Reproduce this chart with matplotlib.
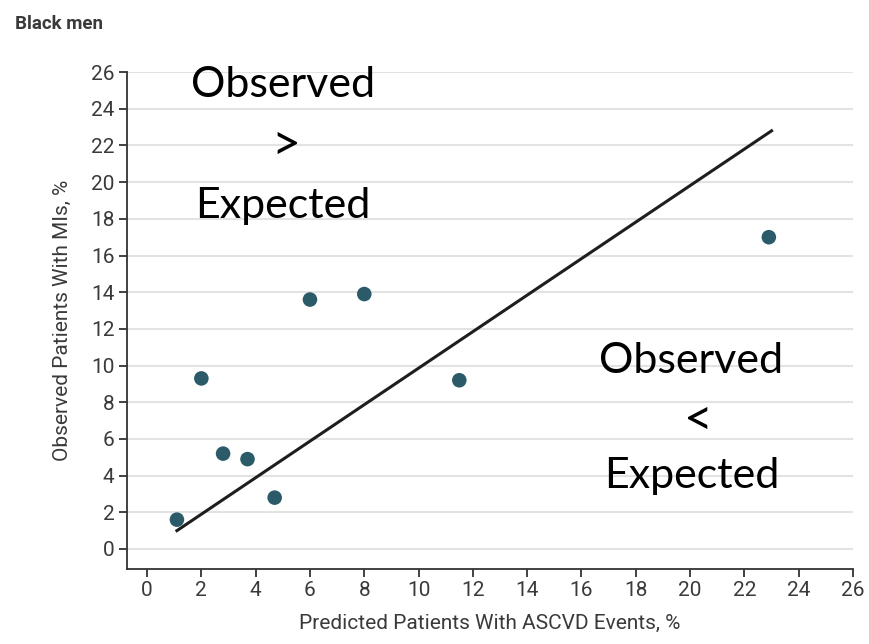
import matplotlib
matplotlib.use("Agg")
import matplotlib.pyplot as plt

# predicted vs observed
predicted = [1.1, 2.0, 2.8, 3.7, 4.7, 6.0, 8.0, 11.5, 22.9]
observed = [1.6, 9.3, 5.2, 4.9, 2.8, 13.6, 13.9, 9.2, 17.0]
line_x = [1.1, 23.0]
line_y = [1.0, 22.8]
ticks = list(range(0, 27, 2))

cond = ["Roboto", "DejaVu Sans"]
note_font = ["Lato", "DejaVu Sans"]
text_col = "#3a3a3a"

fig = plt.figure(figsize=(8.69, 6.44), dpi=100)
ax = fig.add_axes([0.1461, 0.1165, 0.9816 - 0.1461, 0.888 - 0.1165])

ax.set_xlim(-0.74, 26)
ax.set_ylim(-1.09, 26)
ax.set_xticks(ticks)
ax.set_yticks(ticks)
ax.set_xticklabels([str(t) for t in ticks], family=cond, fontsize=15, color=text_col)
ax.set_yticklabels([str(t) for t in ticks], family=cond, fontsize=15, color=text_col)
ax.tick_params(length=6, width=1.3, color="#333333", pad=3)

for t in ticks:
  ax.axhline(t, color="#e3e3e3", lw=1.5, zorder=0)

for side in ["top", "right"]:
  ax.spines[side].set_visible(False)
for side in ["left", "bottom"]:
  ax.spines[side].set_color("#333333")
  ax.spines[side].set_linewidth(1.3)

ax.plot(line_x, line_y, color="#1e1e1e", lw=2.2, zorder=2)
ax.scatter(predicted, observed, s=110, color="#2b5a69", edgecolors="none", zorder=3)

ax.set_xlabel("Predicted Patients With ASCVD Events, %", family=cond,
              fontsize=15, color=text_col, labelpad=10)
ax.set_ylabel("Observed Patients With MIs, %", family=cond,
              fontsize=15, color=text_col, labelpad=14)

fig.text(0.017, 0.962, "Black men", family=cond, fontsize=13.5,
         fontweight="bold", color=text_col, ha="left", va="center")

# region labels
for txt, x, y, fs in [("Observed", 5.0, 25.3, 31), (">", 5.1, 22.0, 36), ("Expected", 5.0, 18.7, 31),
                      ("Observed", 20.05, 10.27, 31), ("<", 20.3, 7.0, 36), ("Expected", 20.05, 4.0, 31)]:
  ax.text(x, y, txt, family=note_font, fontsize=fs, color="black",
          ha="center", va="center", zorder=4)

fig.savefig("out.png", dpi=100)
